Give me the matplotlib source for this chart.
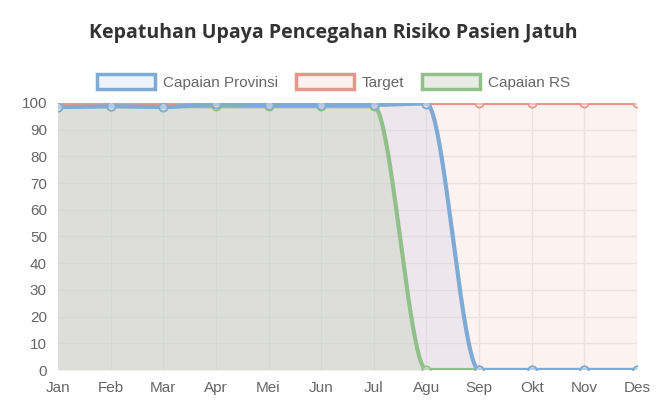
import numpy as np
import matplotlib
matplotlib.use("Agg")
import matplotlib.pyplot as plt
from matplotlib.patches import Patch

months = ["Jan","Feb","Mar","Apr","Mei","Jun","Jul","Agu","Sep","Okt","Nov","Des"]
provinsi = [98.5, 98.8, 98.5, 99.5, 99.2, 99.3, 99.3, 99.8, 0, 0, 0, 0]
target = [100]*12
rs = [98.8, 98.8, 98.8, 98.8, 98.8, 98.8, 98.8, 0, 0, 0, 0, 0]

def pchip(y, n=40):
    y = np.asarray(y, float); x = np.arange(len(y))
    d = np.diff(y)
    m = np.zeros_like(y)
    for i in range(1, len(y)-1):
        if d[i-1]*d[i] > 0:
            m[i] = 2/(1/d[i-1]+1/d[i])
    m[0] = d[0]; m[-1] = d[-1]
    if d[0]*m[1] <= 0: m[0] = 0
    if d[-1]*m[-2] <= 0: m[-1] = 0
    xs, ys = [], []
    for i in range(len(y)-1):
        t = np.linspace(0, 1, n, endpoint=False)
        h00 = 2*t**3-3*t**2+1; h10 = t**3-2*t**2+t; h01 = -2*t**3+3*t**2; h11 = t**3-t**2
        xs.append(i+t); ys.append(h00*y[i]+h10*m[i]+h01*y[i+1]+h11*m[i+1])
    xs.append([x[-1]]); ys.append([y[-1]])
    return np.concatenate(xs), np.concatenate(ys)

fig = plt.figure(figsize=(6.67, 4.11), dpi=100)
ax = fig.add_axes([58/667, 1-370/411, (637-58)/667, (370-103)/411])
x = np.arange(12)
blue_fc = (0.72, 0.77, 0.90, 0.22)
red_fc = (0.97, 0.86, 0.84, 0.35)
green_fc = (0.78, 0.82, 0.74, 0.40)
series = [(target, "Target", "#e8958a", red_fc),
          (provinsi, "Capaian Provinsi", "#7eaad4", blue_fc),
          (rs, "Capaian RS", "#92c08a", green_fc)]
for vals, lab, col, fc in series:
    xs, ys = pchip(vals)
    ax.fill_between(xs, 0, ys, color=fc, linewidth=0)
for idx in [2, 0, 1]:
    vals, lab, col, fc = series[idx]
    xs, ys = pchip(vals)
    ax.plot(xs, ys, color=col, lw=3)
    ax.plot(x, vals, 'o', ms=6, mfc=(1,1,1,0.4), mec=col, mew=1.2)

ax.set_xlim(0, 11); ax.set_ylim(0, 100)
ax.set_yticks(range(0, 101, 10))
ax.set_xticks(x); ax.set_xticklabels(months)
ax.grid(True, color="#e6e6e6", lw=1)
ax.set_axisbelow(True)
for s in ax.spines.values(): s.set_visible(False)
ax.tick_params(length=0, labelsize=11, colors="#666666", pad=8)
for lbl in ax.get_xticklabels() + ax.get_yticklabels():
    lbl.set_family("Liberation Sans")
fig.text(0.5, 1-33/411, "Kepatuhan Upaya Pencegahan Risiko Pasien Jatuh", ha="center", va="center",
         fontsize=14, fontweight="bold", color="#333333", family="Open Sans")
handles = [Patch(facecolor=blue_fc, edgecolor="#7eaad4", lw=2.5, label="Capaian Provinsi"),
           Patch(facecolor=red_fc, edgecolor="#e8958a", lw=2.5, label="Target"),
           Patch(facecolor=green_fc, edgecolor="#92c08a", lw=2.5, label="Capaian RS")]
fig.legend(handles=handles, loc="center", bbox_to_anchor=(0.5, 1-82/411), ncol=3, frameon=False,
           prop={"family": "Liberation Sans", "size": 11}, labelcolor="#666666",
           handlelength=3.8, handleheight=1.1, columnspacing=1.2, handletextpad=0.5)
fig.savefig("out.png", dpi=100)
